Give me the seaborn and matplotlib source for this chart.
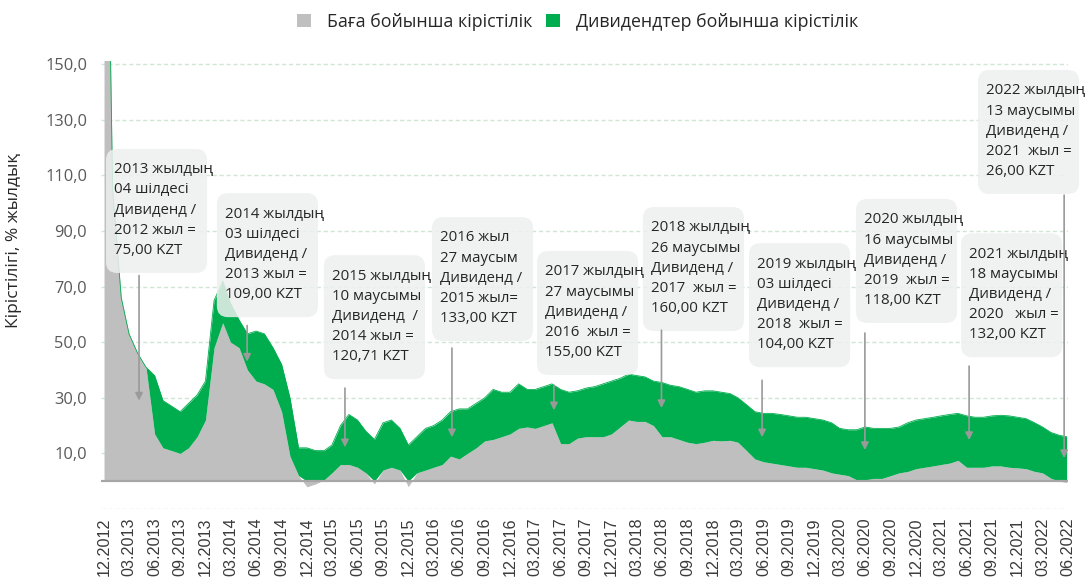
import pandas as pd
import numpy as np
import matplotlib
matplotlib.use('Agg')
import matplotlib.pyplot as plt
import matplotlib.dates as mdates
from matplotlib.patches import FancyBboxPatch, Patch
from matplotlib.ticker import FuncFormatter
import seaborn as sns

# месячные значения, Dec 2012 .. May 2022 (+ конец декабря 2012 и конец ряда)
dates = ([pd.Timestamp('2012-12-01'), pd.Timestamp('2012-12-24')]
         + list(pd.date_range('2013-01-01', '2022-05-01', freq='MS'))
         + [pd.Timestamp('2022-05-27')])

price_yield = [190, 155, 105, 66, 53, 46, 41, 17, 12, 11, 10, 12, 16,
               22, 48, 57, 50, 48, 40, 36, 35, 33, 25, 9, 2,
               -2, -1, 0.5, 3, 6, 6, 5, 3, -1, 4, 5, 4,
               -2, 3, 4, 5, 6, 9, 8, 10, 12, 14.5, 15, 16,
               17, 19, 19.5, 19, 20, 21, 13.5, 13.5, 15.5, 16, 16, 16,
               17, 19.5, 22, 21.5, 21.5, 20, 16, 16, 15, 14, 13.5, 14,
               14.7, 14.5, 14.7, 14, 11, 8, 7, 6.5, 6, 5.5, 5, 5,
               4.5, 4, 3, 2.5, 2, 0.5, 0.5, 1, 1, 2, 3, 3.5,
               4.5, 5, 5.5, 6, 6.5, 7.5, 5, 5, 5, 5.5, 5.5, 5,
               4.8, 4.5, 3.5, 3, 1, 0, -0.5]

div_yield = [0, 0, 0, 0, 0, 0, 0, 21, 17, 16, 15, 16, 15,
             14, 17, 15, 14, 10, 13, 18, 18, 15, 17, 21, 10,
             12, 11, 10.5, 10, 14, 18, 17, 15, 15, 17, 17, 15,
             13, 13, 15, 15, 16, 16, 18, 16, 16, 15.5, 18, 16,
             15, 16, 13.5, 14, 14, 14, 19.5, 18.5, 17, 17.5, 18, 19,
             19, 17.5, 16.5, 16.5, 16, 16, 19.5, 18.5, 19, 19, 18.5, 18.5,
             17.8, 17.5, 16.8, 16, 16.5, 17, 17.4, 17.9, 18, 18, 18, 18,
             18, 18, 18, 16.5, 16.5, 18, 19, 18, 18, 17, 16.5, 17.5,
             17.5, 17.5, 17.5, 17.5, 17.5, 16.9, 18.5, 18, 18, 18, 18.2, 18.5,
             18.2, 18, 17.5, 16.5, 16.5, 16.5, 16]

df = pd.DataFrame({'date': dates, 'price': price_yield, 'div': div_yield})
df['base'] = df['price'].clip(lower=0)
df['total'] = df['base'] + df['div']

# аннотации: текст, левый край блока, верх блока, x стрелки, начало, конец
notes = [
    ('2013 жылдың\n04 шілдесі\nДивиденд /\n2012 жыл =\n75,00 KZT', '2012-12-08', 119.5, '2013-04-06', 74, 29),
    ('2014 жылдың\n03 шілдесі\nДивиденд /\n2013 жыл =\n109,00 KZT', '2014-01-11', 103.6, '2014-04-30', 56, 43),
    ('2015 жылдың\n10 маусымы\nДивиденд  /\n2014 жыл =\n120,71 KZT', '2015-01-31', 81.3, '2015-04-17', 33.5, 12.2),
    ('2016 жыл\n27 маусым\nДивиденд /\n2015 жыл=\n133,00 KZT', '2016-02-24', 95.0, '2016-05-06', 47.9, 15.8),
    ('2017 жылдың\n27 маусымы\nДивиденд /\n2016  жыл =\n155,00 KZT', '2017-03-08', 82.8, '2017-05-08', 34.5, 25.5),
    ('2018 жылдың\n26 маусымы\nДивиденд /\n2017  жыл =\n160,00 KZT', '2018-03-24', 98.6, '2018-05-30', 54.3, 26.3),
    ('2019 жылдың\n03 шілдесі\nДивиденд /\n2018  жыл =\n104,00 KZT', '2019-04-10', 85.6, '2019-05-27', 36.3, 15.8),
    ('2020 жылдың\n16 маусымы\nДивиденд /\n2019  жыл =\n118,00 KZT', '2020-04-29', 101.5, '2020-05-31', 53.3, 11.2),
    ('2021 жылдың\n18 маусымы\nДивиденд /\n2020   жыл =\n132,00 KZT', '2021-05-12', 89.2, '2021-06-10', 41.4, 14.8),
    ('2022 жылдың\n13 маусымы\nДивиденд /\n2021  жыл =\n26,00 KZT', '2021-07-12', 147.9, '2022-05-18', 102.9, 8.3),
]

sns.set_theme(style='white')
plt.rcParams['font.family'] = ['Open Sans', 'DejaVu Sans']

GRAY = '#bfbfbf'
GREEN = '#00ad4e'

fig = plt.figure(figsize=(10.88, 5.79), dpi=100)
ax = fig.add_axes([0.0928, 0.1209, 0.8891, 0.7731])

ax.fill_between(df['date'], 0, df['price'], color=GRAY, lw=0, zorder=2)
ax.fill_between(df['date'], df['base'], df['total'], color=GREEN, lw=0, zorder=2)
sns.lineplot(data=df, x='date', y='total', color=GREEN, lw=0.6, ax=ax, zorder=2)
ax.axhline(0, color='#a6a6a6', lw=1.6, zorder=3)

ax.set_xlim(pd.Timestamp('2012-11-20'), pd.Timestamp('2022-06-02'))
ax.set_ylim(-10, 151)

# оси
yt = np.arange(-10, 151, 20)
ax.set_yticks(yt)
ax.yaxis.set_major_formatter(FuncFormatter(lambda v, p: '' if v < 0 else f'{v:.1f}'.replace('.', ',')))
ax.tick_params(axis='y', length=0, pad=10, labelsize=11.8, labelcolor='#595959')
xt = pd.date_range('2012-12-01', '2022-06-01', freq='3MS')
ax.set_xticks(xt)
ax.set_xticklabels([d.strftime('%m.%Y') for d in xt], rotation=90,
                   family=['Liberation Sans', 'DejaVu Sans'], fontsize=11.6, color='#3a3a3a')
ax.tick_params(axis='x', length=0, pad=6)
ax.set_xlabel('')
ax.set_ylabel('Кірістілігі, % жылдық', fontsize=12.5, color='#262626')
ax.yaxis.set_label_coords(-0.082, 0.6)
ax.yaxis.grid(True, color='#cfe6d6', linestyle=(0, (3, 2)), lw=1)
ax.xaxis.grid(False)
ax.set_axisbelow(True)
sns.despine(ax=ax, left=True, bottom=True)

# блоки с датами дивидендов
box_w = 364  # дней
box_h = 44.6
for txt, bx, top, axx, y0, y1 in notes:
    x0 = mdates.date2num(pd.Timestamp(bx))
    box = FancyBboxPatch((x0, top - box_h), box_w, box_h,
                         boxstyle='round,pad=0,rounding_size=40', mutation_aspect=0.1,
                         facecolor='#eef0ef', edgecolor='none', alpha=0.85,
                         zorder=4, clip_on=False)
    ax.add_patch(box)
    ax.text(x0 + 30, top - 4.8, txt, va='top', ha='left', fontsize=10.8,
            color='#262626', linespacing=1.47, zorder=5, clip_on=False)
    xa = pd.Timestamp(axx)
    ax.annotate('', xy=(xa, y1), xytext=(xa, y0),
                arrowprops=dict(arrowstyle='-|>', color='#9a9a9a', lw=1.2,
                                mutation_scale=11, shrinkA=0, shrinkB=0),
                zorder=6)

handles = [Patch(facecolor=GRAY, edgecolor='none', label='Баға бойынша кірістілік'),
           Patch(facecolor=GREEN, edgecolor='none', label='Дивидендтер бойынша кірістілік')]
fig.legend(handles=handles, loc='upper center', bbox_to_anchor=(0.531, 1.005), ncol=2,
           frameon=False, fontsize=12.8, handlelength=0.75, handleheight=0.75,
           handletextpad=0.9, columnspacing=0.8, labelcolor='#262626')

fig.savefig('out.png', dpi=100)
